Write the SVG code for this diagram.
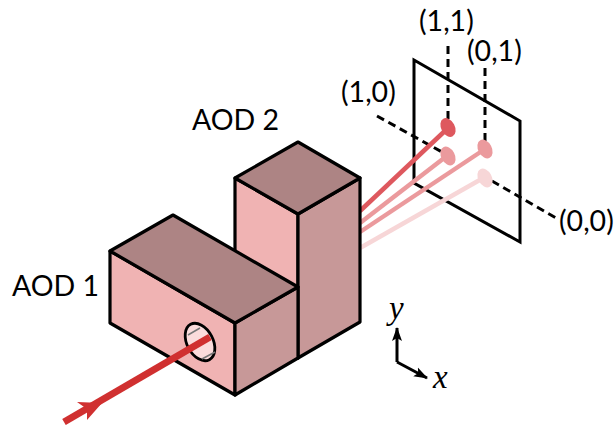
<svg xmlns="http://www.w3.org/2000/svg" width="615" height="425" viewBox="0 0 615 425">
<style>
.e{stroke:#000;stroke-width:3.200;stroke-linejoin:round;stroke-linecap:round}
.top{fill:#ad8484}.front{fill:#f0b3b3}.side{fill:#c79898}
.d{fill:none;stroke:#000;stroke-width:3;stroke-dasharray:8 5}
.t{font-family:"Lato",sans-serif;font-size:28.500px;fill:#000}
.m{font-family:"Liberation Serif",serif;font-style:italic;font-size:33px;fill:#000}
.b{fill:none;stroke-width:4.500}
</style>
<defs>
<marker id="axh" markerUnits="userSpaceOnUse" markerWidth="16" markerHeight="12" refX="13" refY="6" orient="auto"><path d="M0 1L14 6L0 11L3 6Z" fill="#000"/></marker>
</defs>
<g id="screen"><path d="M414 60L520 121V242L414 183Z" fill="#fff" stroke="#000" stroke-width="3" stroke-linejoin="miter"/></g>
<g id="connectors">
<path class="d" d="M448 46V120"/>
<path class="d" d="M485 68V142"/>
<path class="d" d="M377 116L442 152"/>
<path class="d" d="M492 181L556 218"/>
<path class="b" stroke="#de585e" d="M360 211L448 128"/>
<path class="b" stroke="#eb9a9d" d="M360 223L448 155"/>
<path class="b" stroke="#eb9a9d" d="M360 232L485 149"/>
<path class="b" stroke="#f7d6d7" d="M360 248L485 177"/>
<g fill="none" stroke="#000" stroke-width="3">
<path marker-end="url(#axh)" d="M397 362V328"/>
<path marker-end="url(#axh)" d="M397 362L427 378"/>
</g>
</g>
<g id="spot-11"><ellipse cx="448" cy="127.500" rx="6.800" ry="10" transform="rotate(-28 448 127.500)" fill="#de585e"/></g>
<g id="spot-10"><ellipse cx="448" cy="156" rx="6.800" ry="10" transform="rotate(-28 448 156)" fill="#eb9a9d"/></g>
<g id="spot-01"><ellipse cx="485" cy="149" rx="6.800" ry="10" transform="rotate(-28 485 149)" fill="#eb9a9d"/></g>
<g id="spot-00"><ellipse cx="485" cy="178" rx="6.800" ry="10" transform="rotate(-28 485 178)" fill="#f7d6d7"/></g>
<g id="aod2">
<path class="e front" d="M235 178L298 214V358L235 322Z"/>
<path class="e side" d="M298 214L360 178V322L298 358Z"/>
<path class="e top" d="M235 178L298 142L360 178L298 214Z"/>
</g>
<g id="aod1">
<path class="e front" d="M110 251L235 323V395L110 323Z"/>
<path class="e side" d="M235 323L298 287V358L235 395Z"/>
<path class="e top" d="M110 251L173 215L298 287L235 323Z"/>
<ellipse cx="200" cy="342" rx="13" ry="20" transform="rotate(-28 200 342)" fill="#fbdcdc" stroke="#000" stroke-width="2.800"/>
<path d="M188 335L200 328M202 359L215 352" stroke="#777" stroke-width="1.500" fill="none"/>
</g>
<g id="beam">
<path d="M64 422L210 337" stroke="#d03030" stroke-width="7" fill="none"/>
<path d="M102 403L77 402L87 409L87 420Z" fill="#d03030"/>
</g>
<g id="labels">
<text class="t" x="192" y="130">AOD 2</text>
<text class="t" x="12" y="296">AOD 1</text>
<text class="t" x="419" y="31">(1,1)</text>
<text class="t" x="467" y="61">(0,1)</text>
<text class="t" x="341" y="102">(1,0)</text>
<text class="t" x="559" y="231">(0,0)</text>
<text class="m" x="389" y="319">y</text>
<text class="m" x="433" y="388">x</text>
</g>
</svg>
